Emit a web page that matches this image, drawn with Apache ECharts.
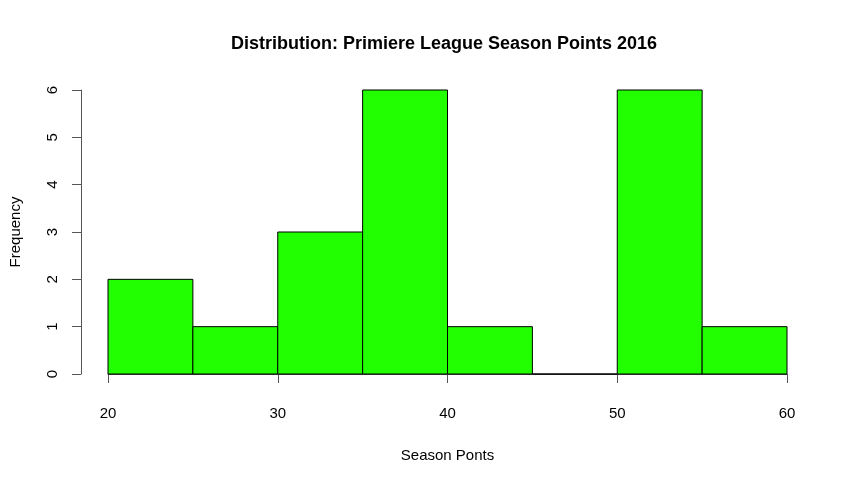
<!DOCTYPE html>
<html>
<head>
<meta charset="utf-8">
<script src="https://cdn.jsdelivr.net/npm/echarts@6/dist/echarts.min.js"></script>
<style>
  html, body { margin: 0; padding: 0; background: #fff; }
  #chart { width: 855px; height: 484px; }
</style>
</head>
<body>
<div id="chart"></div>
<script>
// histogram bins (season points) and counts
var binStart = [20, 25, 30, 35, 40, 45, 50, 55];
var binEnd   = [25, 30, 35, 40, 45, 50, 55, 60];
var counts   = [2, 1, 3, 6, 1, 0, 6, 1];
var xTicks = [20, 30, 40, 50, 60];
var yTicks = [0, 1, 2, 3, 4, 5, 6];

var data = binStart.map(function (s, i) { return [s, binEnd[i], counts[i]]; });

var chart = echarts.init(document.getElementById('chart'));
var font = 'Liberation Sans, Helvetica, Arial, sans-serif';

chart.setOption({
  animation: false,
  title: {
    text: 'Distribution: Primiere League Season Points 2016',
    left: 439, top: 30, textAlign: 'center',
    textStyle: { fontFamily: font, fontSize: 18, fontWeight: 'bold', color: '#000' }
  },
  grid: { left: 105, right: 68, top: 90, bottom: 110 },
  xAxis: {
    type: 'value', min: 20, max: 60, interval: 10,
    offset: 12,
    name: 'Season Ponts', nameLocation: 'middle', nameGap: 62,
    nameTextStyle: { fontFamily: font, fontSize: 15, color: '#000' },
    axisLine: { show: true, lineStyle: { color: '#555', width: 1 } },
    axisTick: { show: true, length: 9, lineStyle: { color: '#555' } },
    axisLabel: { fontFamily: font, fontSize: 15, color: '#000', margin: 20,
      formatter: function (v) { return xTicks.indexOf(v) >= 0 ? String(v) : ''; } },
    splitLine: { show: false }
  },
  yAxis: {
    type: 'value', min: 0, max: 6, interval: 1,
    offset: 27,
    name: 'Frequency', nameLocation: 'middle', nameGap: 58,
    nameTextStyle: { fontFamily: font, fontSize: 15, color: '#000' },
    axisLine: { show: true, lineStyle: { color: '#555', width: 1 } },
    axisTick: { show: true, length: 9, lineStyle: { color: '#555' } },
    axisLabel: { fontFamily: font, fontSize: 15, color: '#000', rotate: 90, margin: 21,
      formatter: function (v) { return yTicks.indexOf(v) >= 0 ? String(v) : ''; } },
    splitLine: { show: false }
  },
  series: [{
    type: 'custom',
    data: data,
    encode: { x: [0, 1], y: 2 },
    renderItem: function (params, api) {
      var p0 = api.coord([api.value(0), 0]);
      var p1 = api.coord([api.value(1), api.value(2)]);
      return {
        type: 'rect',
        shape: { x: p0[0], y: p1[1], width: p1[0] - p0[0], height: p0[1] - p1[1] },
        style: { fill: '#22ff00', stroke: '#000', lineWidth: 1 }
      };
    }
  }]
});
</script>
</body>
</html>
